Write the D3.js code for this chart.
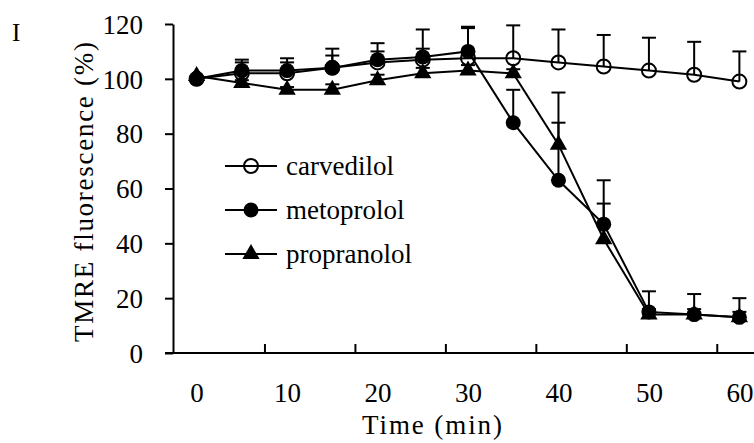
<!DOCTYPE html>
<html>
<head>
<meta charset="utf-8">
<script src="https://cdn.jsdelivr.net/npm/d3@7"></script>
</head>
<body style="margin:0">
<div id="chart"></div>
<script>
// Data (time in min, TMRE fluorescence in %)
const times = [0, 5, 10, 15, 20, 25, 30, 35, 40, 45, 50, 55, 60];
const carvedilol = [100, 102, 102, 104, 106, 107, 107.5, 107.5, 106, 104.5, 103, 101.5, 99];
const carvedilolSD = [0, 4, 4, 7, 7, 11, 11, 12, 12, 11.5, 12, 12, 11];
const metoprolol = [100, 103, 103, 104, 107, 108, 110, 84, 63, 47, 15, 14, 13];
const metoprololSD = [0, 4, 4.5, 4.5, 3, 3, 9, 12, 21, 16, 7.5, 7.5, 7];
const propranolol = [101, 98.5, 96, 96, 99.5, 102, 103, 102, 76, 41.5, 14, 14, 13];
const propranololSD = [0, 1, 1, 2, 2, 2, 2, 1.5, 19, 13, 2, 2, 2];
const seriesNames = ["carvedilol", "metoprolol", "propranolol"];
const xTickLabels = [0, 10, 20, 30, 40, 50, 60];
const xTickMarks = [7.5, 17.5, 27.5, 37.5, 47.5, 57.5];
const yTickLabels = [0, 20, 40, 60, 80, 100, 120];

const series = [
  {name: seriesNames[0], values: carvedilol, sd: carvedilolSD, symbol: "open"},
  {name: seriesNames[1], values: metoprolol, sd: metoprololSD, symbol: "circle"},
  {name: seriesNames[2], values: propranolol, sd: propranololSD, symbol: "triangle"}
];

const width = 754;
const height = 443;
const serif = "Liberation Serif";

const svg = d3.select("#chart")
  .append("svg")
    .attr("width", width)
    .attr("height", height)
    .style("display", "block");

svg.append("rect")
    .attr("width", width)
    .attr("height", height)
    .attr("fill", "#fff");

/****************************/
/*    Declare the scales    */
/****************************/
// category-style axis: each 5 min step is one slot, axis starts half a slot before 0
const xScale = d3.scaleLinear()
  .domain([-2.5, 62.5])
  .range([174, 762]);

const yScale = d3.scaleLinear()
  .domain([0, 120])
  .range([353, 24]);

/***************************/
/*     Append the axes     */
/***************************/
// x tick marks (inside, between categories)
svg.append("g")
    .attr("class", "axis-x")
    .attr("transform", `translate(0, ${yScale(0)})`)
    .call(d3.axisBottom(xScale).tickValues(xTickMarks).tickSize(-9).tickFormat(""))
    .call(g => g.select(".domain").remove());

// x axis line
svg.append("line")
    .attr("x1", 165)
    .attr("x2", width)
    .attr("y1", yScale(0))
    .attr("y2", yScale(0))
    .attr("stroke", "#000")
    .attr("stroke-width", 2);

// x labels
svg.append("g")
    .attr("class", "axis-xl")
    .attr("transform", `translate(0, ${yScale(0)})`)
    .call(d3.axisBottom(xScale).tickValues(xTickLabels).tickSize(0).tickPadding(30))
    .call(g => g.select(".domain").remove());

// y axis
svg.append("g")
    .attr("class", "axis-y")
    .attr("transform", `translate(${xScale(-2.5) - 1}, 0)`)
    .call(d3.axisLeft(yScale).tickValues(yTickLabels).tickSize(8).tickPadding(22).tickSizeOuter(0));

svg.selectAll(".axis-x line, .axis-y line, .axis-y path")
  .attr("stroke", "#000")
  .attr("stroke-width", 2);

svg.selectAll(".axis-xl, .axis-y")
  .attr("font-family", serif)
  .attr("font-size", 27);
svg.selectAll(".axis-xl text, .axis-y text")
  .attr("fill", "#000")
  .attr("font-family", serif);
svg.selectAll(".axis-y text").attr("dy", "0.34em");

// axis titles
svg.append("text")
    .text("Time (min)")
    .attr("x", 432)
    .attr("y", 434)
    .attr("text-anchor", "middle")
    .attr("font-family", serif)
    .attr("font-size", 27)
    .attr("textLength", 140);

svg.append("text")
    .text("TMRE fluorescence (%)")
    .attr("transform", `translate(93, 192) rotate(-90)`)
    .attr("text-anchor", "middle")
    .attr("font-family", serif)
    .attr("font-size", 27)
    .attr("fill", "#000")
    .attr("textLength", 300);

// panel letter
svg.append("text")
    .text("I")
    .attr("x", 12)
    .attr("y", 41)
    .attr("font-family", serif)
    .attr("font-size", 25);

/***********************************/
/*        Lines, bars, markers     */
/***********************************/
const lineGenerator = d3.line()
  .x((d, i) => xScale(times[i]))
  .y(d => yScale(d));

const tri = d3.symbol().type(d3.symbolTriangle).size(130);

const drawMarker = (sel, symbol, cx, cy) => {
  if (symbol === "triangle") {
    sel.append("path")
        .attr("d", tri())
        .attr("transform", `translate(${cx}, ${cy})`)
        .attr("fill", "#000");
  } else {
    sel.append("circle")
        .attr("cx", cx)
        .attr("cy", cy)
        .attr("r", symbol === "open" ? 7 : 7.5)
        .attr("fill", symbol === "open" ? "none" : "#000")
        .attr("stroke", "#000")
        .attr("stroke-width", symbol === "open" ? 2 : 0);
  }
};

// lines
series.forEach(s => {
  svg.append("path")
      .attr("d", lineGenerator(s.values))
      .attr("fill", "none")
      .attr("stroke", "#000")
      .attr("stroke-width", 2);
});

// upper error bars
series.forEach(s => {
  const g = svg.append("g");
  s.values.forEach((v, i) => {
    if (s.sd[i] <= 0) return;
    const x = xScale(times[i]);
    g.append("line")
        .attr("x1", x).attr("x2", x)
        .attr("y1", yScale(v)).attr("y2", yScale(v + s.sd[i]))
        .attr("stroke", "#000").attr("stroke-width", 2);
    g.append("line")
        .attr("x1", x - 7).attr("x2", x + 7)
        .attr("y1", yScale(v + s.sd[i])).attr("y2", yScale(v + s.sd[i]))
        .attr("stroke", "#000").attr("stroke-width", 2);
  });
});

// markers
series.forEach(s => {
  const g = svg.append("g");
  s.values.forEach((v, i) => drawMarker(g, s.symbol, xScale(times[i]), yScale(v)));
});

/***********************************/
/*             Legend              */
/***********************************/
const legendY = [166, 210, 254];
series.forEach((s, i) => {
  const g = svg.append("g");
  g.append("line")
      .attr("x1", 225).attr("x2", 277)
      .attr("y1", legendY[i]).attr("y2", legendY[i])
      .attr("stroke", "#000").attr("stroke-width", 2);
  drawMarker(g, s.symbol, 251, legendY[i]);
  g.append("text")
      .text(s.name)
      .attr("x", 286)
      .attr("y", legendY[i])
      .attr("dy", "0.32em")
      .attr("font-family", serif)
      .attr("font-size", 27);
});
</script>
</body>
</html>
